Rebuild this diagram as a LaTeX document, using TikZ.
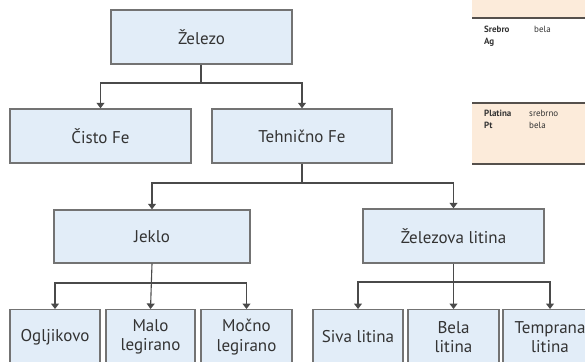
\documentclass[tikz,border=0pt]{standalone}
\usepackage{fontspec}
\setmainfont{PT Sans}
\usetikzlibrary{arrows.meta}
\definecolor{boxfill}{HTML}{E2EDF8}
\definecolor{boxline}{HTML}{737373}
\definecolor{conn}{HTML}{4A4A4A}
\definecolor{peach}{HTML}{FCEBDA}
\definecolor{ruleclr}{HTML}{55504C}
\definecolor{ttext}{HTML}{333333}
\tikzset{
  px/.style={x=1pt,y=-1pt},
  box/.style={draw=boxline, fill=boxfill, line width=1.4pt, inner sep=0pt},
  lbl/.style={font=\fontsize{17}{19.5}\selectfont, text=ttext, align=center},
  tag/.style={font=\fontsize{9}{11.5}\selectfont, text=ttext, anchor=north west, inner sep=0pt, align=left},
  link/.style={draw=conn, line width=1.1pt},
  arr/.style={link, -{Triangle[width=8pt,length=5.5pt]}},
  tablerule/.style={draw=ruleclr, line width=2.2pt}
}
\begin{document}
\begin{tikzpicture}[px]
\useasboundingbox (0,0) rectangle (585,361);
% table fragment
\fill[peach] (472,0) rectangle (585,18);
\fill[peach] (472,103) rectangle (585,164);
\coordinate (ta) at (472,18);
\coordinate (tb) at (585,18);
\coordinate (tc) at (472,103);
\coordinate (td) at (585,103);
\coordinate (te) at (472,164);
\coordinate (tf) at (585,164);
\draw[tablerule] (ta) -- (tb);
\draw[tablerule] (tc) -- (td);
\draw[tablerule] (te) -- (tf);
\node[tag] (srebro) at (484,26) {\textbf{Srebro}\\\textbf{Ag}};
\node[tag] (bela1) at (534,26) {bela};
\node[tag] (platina) at (484,110) {\textbf{Platina}\\\textbf{Pt}};
\node[tag] (srebrno) at (529,110) {srebrno\\bela};
\begin{scope}
\clip (0,0) rectangle (585,361);
% boxes
\node[box, minimum width=181pt, minimum height=54pt] (zel) at (201.5,37) {};
\node[lbl] at (zel) {Železo};
\node[box, minimum width=181pt, minimum height=54pt] (cis) at (100.5,136) {};
\node[lbl] at (cis) {Čisto Fe};
\node[box, minimum width=180pt, minimum height=54pt] (teh) at (302,136) {};
\node[lbl] at (teh) {Tehnično Fe};
\node[box, minimum width=196pt, minimum height=53pt] (jek) at (152,236.5) {};
\node[lbl] at (jek) {Jeklo};
\node[box, minimum width=181pt, minimum height=54pt] (zl) at (453.5,236) {};
\node[lbl] at (zl) {Železova litina};
% bottom row (cut by the frame)
\node[box, minimum width=90pt, minimum height=70pt, anchor=north] (ogl) at (55,309) {};
\node[lbl] at (55,337) {Ogljikovo};
\node[box, minimum width=89pt, minimum height=70pt, anchor=north] (mal) at (150.5,309) {};
\node[lbl] at (150.5,337) {Malo\\legirano};
\node[box, minimum width=91pt, minimum height=70pt, anchor=north] (moc) at (246.5,309) {};
\node[lbl] at (246.5,337) {Močno\\legirano};
\node[box, minimum width=90pt, minimum height=70pt, anchor=north] (siv) at (358,309) {};
\node[lbl] at (358,337) {Siva litina};
\node[box, minimum width=91pt, minimum height=70pt, anchor=north] (bel) at (453.5,309) {};
\node[lbl] at (453.5,337) {Bela\\litina};
\node[box, minimum width=94pt, minimum height=70pt, anchor=north] (tem) at (550,309) {};
\node[lbl] at (550,337) {Temprana\\litina};
% connectors
\coordinate (j1) at (201,83);
\coordinate (j2) at (302,183);
\coordinate (j3) at (152,283);
\coordinate (j4) at (454,282);
\draw[link] (zel.south -| j1) -- (j1);
\draw[arr] (j1) -| (cis.north);
\draw[arr] (j1) -| (teh.north);
\draw[link] (teh.south) -- (j2);
\draw[arr] (j2) -| (jek.north);
\draw[arr] (j2) -| (zl.north);
\draw[arr] (jek.south) -- (mal.north);
\draw[arr] (j3) -| (ogl.north);
\draw[arr] (j3) -| (moc.north);
\draw[arr] (zl.south) -- (bel.north);
\draw[arr] (j4) -| (siv.north);
\draw[arr] (j4) -| (tem.north);
\end{scope}
\end{tikzpicture}
\end{document}
